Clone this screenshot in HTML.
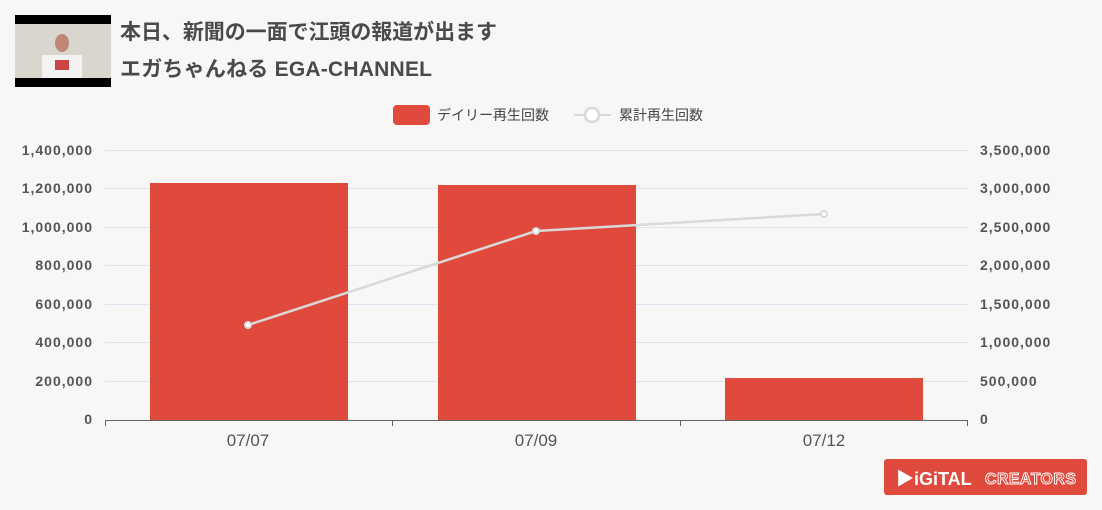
<!DOCTYPE html>
<html><head><meta charset="utf-8"><style>
body{margin:0;background:#f8f7f6;width:1102px;height:510px;overflow:hidden;font-family:"Liberation Sans","Noto Sans CJK JP",sans-serif;}
</style></head><body>
<svg width="1102" height="510" xmlns="http://www.w3.org/2000/svg" style="position:absolute;left:0;top:0">
<rect width="1102" height="510" fill="#f8f7f6"/>
<rect x="15" y="15" width="96" height="72" fill="#000"/>
<rect x="15" y="24" width="96" height="54" fill="#d9d6ce"/>
<rect x="42" y="55" width="40" height="23" fill="#f4f2f0"/>
<ellipse cx="62" cy="43" rx="7" ry="9" fill="#c08676"/>
<rect x="55" y="60" width="14" height="10" fill="#c44"/>
<g font-weight="bold" fill="#4a4a4a" font-family="'Liberation Sans','Noto Sans CJK JP',sans-serif">
<text x="120" y="39" font-size="21" textLength="377">本日、新聞の一面で江頭の報道が出ます</text>
<text x="120" y="76" font-size="21" textLength="312">エガちゃんねる EGA-CHANNEL</text>
</g>
<rect x="393" y="105" width="37" height="20" rx="4" fill="#e04a3c"/>
<text x="437" y="120" font-size="14" fill="#444">デイリー再生回数</text>
<line x1="574" y1="115" x2="611" y2="115" stroke="#d9d9d9" stroke-width="2"/>
<circle cx="592" cy="115" r="7" fill="#fff" stroke="#d9d9d9" stroke-width="2.5"/>
<text x="619" y="120" font-size="14" fill="#444">累計再生回数</text>
<g stroke="#e0e4ee" stroke-width="1">
<line x1="105" y1="150.5" x2="968" y2="150.5"/><line x1="105" y1="188.5" x2="968" y2="188.5"/>
<line x1="105" y1="227.5" x2="968" y2="227.5"/><line x1="105" y1="265.5" x2="968" y2="265.5"/>
<line x1="105" y1="304.5" x2="968" y2="304.5"/><line x1="105" y1="342.5" x2="968" y2="342.5"/>
<line x1="105" y1="381.5" x2="968" y2="381.5"/>
</g>
<g fill="#e04a3c">
<rect x="150" y="183" width="198" height="237"/>
<rect x="438" y="185" width="198" height="235"/>
<rect x="725" y="378" width="198" height="42"/>
</g>
<line x1="105" y1="420.5" x2="968" y2="420.5" stroke="#666"/>
<g stroke="#666"><line x1="105.5" y1="420" x2="105.5" y2="426"/><line x1="392.5" y1="420" x2="392.5" y2="426"/><line x1="680.5" y1="420" x2="680.5" y2="426"/><line x1="967.5" y1="420" x2="967.5" y2="426"/></g>
<polyline points="248,325 536,231 824,214" fill="none" stroke="#d9d9d9" stroke-width="2.5"/>
<g fill="#fff" stroke="#d9d9d9" stroke-width="2"><circle cx="248" cy="325" r="3"/><circle cx="536" cy="231" r="3"/><circle cx="824" cy="214" r="3"/></g>
<g font-size="14" font-weight="bold" fill="#555" text-anchor="end" letter-spacing="1">
<text x="93" y="155">1,400,000</text><text x="93" y="193">1,200,000</text><text x="93" y="232">1,000,000</text>
<text x="93" y="270">800,000</text><text x="93" y="309">600,000</text><text x="93" y="347">400,000</text>
<text x="93" y="386">200,000</text><text x="93" y="424">0</text>
</g>
<g font-size="14" font-weight="bold" fill="#555" letter-spacing="1">
<text x="980" y="155">3,500,000</text><text x="980" y="193">3,000,000</text><text x="980" y="232">2,500,000</text>
<text x="980" y="270">2,000,000</text><text x="980" y="309">1,500,000</text><text x="980" y="347">1,000,000</text>
<text x="980" y="386">500,000</text><text x="980" y="424">0</text>
</g>
<g font-size="17" fill="#555" text-anchor="middle">
<text x="248" y="446">07/07</text><text x="536" y="446">07/09</text><text x="824" y="446">07/12</text>
</g>
<rect x="884" y="459" width="203" height="36" rx="3" fill="#e04a3c"/>
<text x="896" y="485" font-size="18" font-weight="bold" fill="#fff">▶iGiTAL</text>
<text x="985" y="484" font-size="16" font-weight="bold" fill="none" stroke="#fff" stroke-width="0.9" textLength="91">CREATORS</text>
</svg>
</body></html>
